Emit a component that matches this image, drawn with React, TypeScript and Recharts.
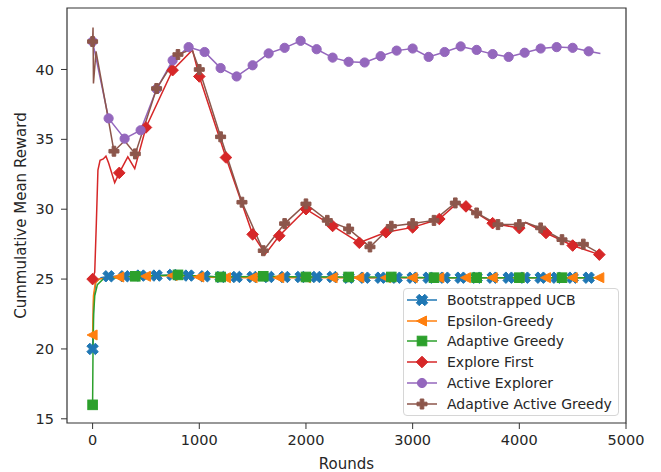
import React from 'react';
import { ComposedChart, Line, XAxis, YAxis, ReferenceArea } from 'recharts';

const FONT = '"DejaVu Sans", sans-serif';
const TXT = '#262626';

// ---- data (rounds / cumulative mean reward) ----
const ucbMarkRounds = [0, 150, 300, 450, 600, 750, 900, 1050, 1200, 1350, 1500, 1650, 1800, 1950, 2100, 2250, 2400, 2550, 2700, 2850, 3000, 3150, 3300, 3450, 3600, 3750, 3900, 4050, 4200, 4350, 4500, 4650];
const ucbMarkValues = [20.0, 25.2, 25.2, 25.25, 25.25, 25.3, 25.25, 25.2, 25.15, 25.15, 25.15, 25.15, 25.15, 25.15, 25.15, 25.15, 25.1, 25.1, 25.1, 25.1, 25.1, 25.1, 25.1, 25.1, 25.1, 25.1, 25.1, 25.1, 25.1, 25.1, 25.1, 25.1];
const ucbExtraRounds = [10, 30, 80, 4760];
const ucbExtraValues = [23.5, 24.8, 25.1, 25.1];

const epsMarkRounds = [0, 250, 500, 750, 1000, 1250, 1500, 1750, 2000, 2250, 2500, 2750, 3000, 3250, 3500, 3750, 4000, 4250, 4500, 4750];
const epsMarkValues = [21.0, 25.15, 25.2, 25.25, 25.15, 25.1, 25.1, 25.1, 25.1, 25.1, 25.1, 25.1, 25.1, 25.1, 25.1, 25.1, 25.1, 25.1, 25.1, 25.1];
const epsExtraRounds = [8, 25, 60];
const epsExtraValues = [23.8, 24.7, 25.0];

const agMarkRounds = [0, 400, 800, 1200, 1600, 2000, 2400, 2800, 3200, 3600, 4000, 4400];
const agMarkValues = [16.0, 25.2, 25.3, 25.15, 25.2, 25.15, 25.15, 25.15, 25.1, 25.1, 25.1, 25.1];
const agExtraRounds = [4, 10, 20, 45, 100, 4760];
const agExtraValues = [20.0, 22.5, 23.8, 24.6, 25.0, 25.1];

const efMarkRounds = [0, 250, 500, 750, 1000, 1250, 1500, 1750, 2000, 2250, 2500, 2750, 3000, 3250, 3500, 3750, 4000, 4250, 4500, 4750];
const efMarkValues = [25.0, 32.6, 35.85, 39.95, 39.5, 33.7, 28.2, 28.1, 30.0, 28.8, 27.6, 28.35, 28.7, 29.3, 30.2, 29.0, 28.65, 28.3, 27.4, 26.75];
const efExtraRounds = [20, 35, 50, 70, 100, 125, 150, 207, 330, 395, 936, 1620, 3420, 4060, 4760];
const efExtraValues = [25.5, 29.0, 32.8, 33.5, 33.6, 33.8, 33.3, 31.9, 33.75, 32.9, 41.4, 26.8, 30.45, 29.05, 26.7];

const aeMarkRounds = [0, 150, 300, 450, 600, 750, 900, 1050, 1200, 1350, 1500, 1650, 1800, 1950, 2100, 2250, 2400, 2550, 2700, 2850, 3000, 3150, 3300, 3450, 3600, 3750, 3900, 4050, 4200, 4350, 4500, 4650];
const aeMarkValues = [42.0, 36.5, 35.05, 35.65, 38.6, 40.65, 41.6, 41.25, 40.1, 39.5, 40.3, 41.15, 41.55, 42.05, 41.45, 40.85, 40.55, 40.5, 40.95, 41.35, 41.5, 40.9, 41.25, 41.65, 41.4, 41.1, 40.9, 41.2, 41.5, 41.6, 41.55, 41.3];
const aeExtraRounds = [4760];
const aeExtraValues = [41.15];

const aagMarkRounds = [0, 200, 400, 600, 800, 1000, 1200, 1400, 1600, 1800, 2000, 2200, 2400, 2600, 2800, 3000, 3200, 3400, 3600, 3800, 4000, 4200, 4400, 4600];
const aagMarkValues = [42.0, 34.15, 33.96, 38.64, 41.07, 40.0, 35.18, 30.5, 27.03, 28.97, 30.38, 29.2, 28.59, 27.3, 28.78, 28.97, 29.2, 30.45, 29.73, 28.9, 28.9, 28.66, 27.82, 27.5];
const aagExtraRounds = [4, 8, 32, 132, 300, 930, 4060, 4760];
const aagExtraValues = [43.0, 39.0, 41.3, 37.1, 34.9, 41.45, 29.05, 26.8];

const xTicks = [0, 1000, 2000, 3000, 4000, 5000];
const yTicks = [15, 20, 25, 30, 35, 40];

const build = (mr: number[], mv: number[], er: number[], ev: number[]) => {
  const marks = mr.map((r, i) => ({ x: r, y: mv[i] }));
  const line = [...marks, ...er.map((r, i) => ({ x: r, y: ev[i] }))].sort((a, b) => a.x - b.x);
  return { marks, line };
};

// ---- marker shapes ----
const plusPts = (cx: number, cy: number, a: number, w: number, rot: number) => {
  const base = [[-w, -a], [w, -a], [w, -w], [a, -w], [a, w], [w, w], [w, a], [-w, a], [-w, w], [-a, w], [-a, -w], [-w, -w]];
  const c = Math.cos(rot), s = Math.sin(rot);
  return base.map(([x, y]) => `${cx + x * c - y * s},${cy + x * s + y * c}`).join(' ');
};

type Shape = 'X' | 'tri' | 'square' | 'diamond' | 'circle' | 'plus';
const Marker = ({ shape, cx, cy, color }: { shape: Shape; cx: number; cy: number; color: string }) => {
  switch (shape) {
    case 'X':
      return <polygon points={plusPts(cx, cy, 6, 2.1, Math.PI / 4)} fill={color} stroke={color} strokeWidth={1} />;
    case 'plus':
      return <polygon points={plusPts(cx, cy, 5, 1.8, 0)} fill={color} stroke={color} strokeWidth={1} />;
    case 'tri':
      return <polygon points={`${cx - 5.5},${cy} ${cx + 4.5},${cy - 5} ${cx + 4.5},${cy + 5}`} fill={color} stroke={color} strokeWidth={1} />;
    case 'square':
      return <rect x={cx - 4.8} y={cy - 4.8} width={9.6} height={9.6} fill={color} stroke={color} strokeWidth={1} />;
    case 'diamond':
      return <polygon points={`${cx},${cy - 5.8} ${cx + 5.8},${cy} ${cx},${cy + 5.8} ${cx - 5.8},${cy}`} fill={color} stroke={color} strokeWidth={1} />;
    default:
      return <circle cx={cx} cy={cy} r={4.6} fill={color} stroke={color} strokeWidth={1} />;
  }
};

const SERIES = [
  { name: 'Bootstrapped UCB', color: '#1f77b4', shape: 'X' as Shape, ...build(ucbMarkRounds, ucbMarkValues, ucbExtraRounds, ucbExtraValues) },
  { name: 'Epsilon-Greedy', color: '#ff7f0e', shape: 'tri' as Shape, ...build(epsMarkRounds, epsMarkValues, epsExtraRounds, epsExtraValues) },
  { name: 'Adaptive Greedy', color: '#2ca02c', shape: 'square' as Shape, ...build(agMarkRounds, agMarkValues, agExtraRounds, agExtraValues) },
  { name: 'Explore First', color: '#d62728', shape: 'diamond' as Shape, ...build(efMarkRounds, efMarkValues, efExtraRounds, efExtraValues) },
  { name: 'Active Explorer', color: '#9467bd', shape: 'circle' as Shape, ...build(aeMarkRounds, aeMarkValues, aeExtraRounds, aeExtraValues) },
  { name: 'Adaptive Active Greedy', color: '#8c564b', shape: 'plus' as Shape, ...build(aagMarkRounds, aagMarkValues, aagExtraRounds, aagExtraValues) },
];

const LegendBox = () => (
  <div
    style={{
      position: 'absolute', left: 403, top: 288, width: 214, height: 126,
      border: '1px solid #d6d6d6', borderRadius: 4, background: 'rgba(255,255,255,0.85)',
      fontFamily: FONT, fontSize: 14, color: TXT,
    }}
  >
    {SERIES.map((s, i) => (
      <div key={s.name} style={{ position: 'absolute', left: 0, top: 1 + i * 20.7, height: 20, width: 214 }}>
        <svg width={32} height={20} style={{ position: 'absolute', left: 3, top: 0 }}>
          <line x1={0} y1={10} x2={30} y2={10} stroke={s.color} strokeWidth={1.5} />
          <Marker shape={s.shape} cx={15} cy={10} color={s.color} />
        </svg>
        <span style={{ position: 'absolute', left: 43, top: 0, lineHeight: '20px', whiteSpace: 'nowrap' }}>{s.name}</span>
      </div>
    ))}
  </div>
);

export default function App() {
  return (
    <div style={{ position: 'absolute', left: 0, top: 0, width: 661, height: 472, background: '#fff' }}>
      <ComposedChart width={661} height={472} margin={{ top: 8, right: 35, bottom: 0, left: 0 }}>
        <XAxis
          type="number"
          dataKey="x"
          domain={[-240, 5000]}
          ticks={xTicks}
          allowDataOverflow
          height={49}
          tickSize={6}
          tickMargin={6}
          axisLine={false}
          tickLine={{ stroke: '#333' }}
          tick={{ fill: TXT, fontSize: 14.5, fontFamily: FONT }}
          label={{ value: 'Rounds', position: 'insideBottom', offset: 3, fill: TXT, fontSize: 15, fontFamily: FONT }}
        />
        <YAxis
          type="number"
          dataKey="y"
          domain={[14.7, 44.4]}
          ticks={yTicks}
          allowDataOverflow
          width={67}
          tickSize={6}
          tickMargin={7}
          axisLine={false}
          tickLine={{ stroke: '#333' }}
          tick={{ fill: TXT, fontSize: 14.5, fontFamily: FONT }}
          label={{ value: 'Cummulative Mean Reward', angle: -90, position: 'center', dx: -13, fill: TXT, fontSize: 15, fontFamily: FONT }}
        />
        <ReferenceArea x1={-240} x2={5000} y1={14.7} y2={44.4} fill="none" stroke="#333" strokeWidth={1.2} />
        {SERIES.flatMap((s) => [
          <Line
            key={s.name + '-line'}
            data={s.line}
            dataKey="y"
            type="linear"
            stroke={s.color}
            strokeWidth={1.5}
            dot={false}
            activeDot={false}
            isAnimationActive={false}
          />,
          <Line
            key={s.name + '-marks'}
            data={s.marks}
            dataKey="y"
            type="linear"
            stroke="none"
            activeDot={false}
            isAnimationActive={false}
            dot={(p: any) => (
              <Marker key={s.name + p.index} shape={s.shape} cx={p.cx} cy={p.cy} color={s.color} />
            )}
          />,
        ])}
      </ComposedChart>
      <LegendBox />
    </div>
  );
}
